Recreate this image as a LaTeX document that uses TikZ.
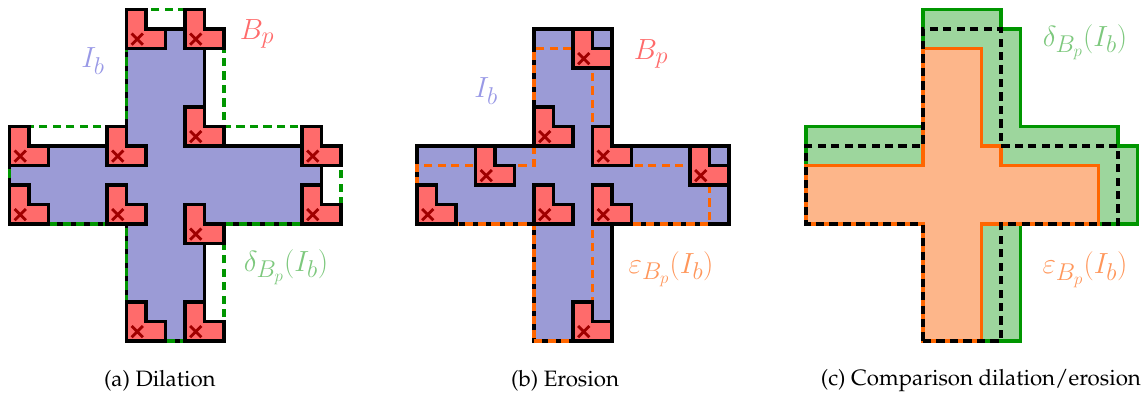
\documentclass[tikz,border=0pt]{standalone}
\usepackage[T1,TU]{fontenc}
\usepackage{tikz}

\definecolor{crossfill}{RGB}{155,155,214}
\definecolor{bpfill}{RGB}{255,107,107}
\definecolor{xred}{RGB}{160,0,0}
\definecolor{dilgreen}{RGB}{0,150,0}
\definecolor{dilfill}{RGB}{157,214,157}
\definecolor{eroorange}{RGB}{255,102,0}
\definecolor{erofill}{RGB}{253,182,138}
\definecolor{iblbl}{RGB}{153,153,230}
\definecolor{diltxt}{RGB}{125,200,125}
\definecolor{erotxt}{RGB}{255,150,90}

\newcommand{\capfont}{\fontencoding{T1}\fontfamily{ppl}\fontsize{19}{23}\selectfont}

\begin{document}
\begin{tikzpicture}[x=0.585cm, y=0.585cm,
    outline/.style={draw=black, line width=3.3pt},
    imgb/.style={outline, fill=crossfill},
    bp/.style={outline, fill=bpfill},
    xmark/.style={draw=xred, line width=2.3pt},
    dilline/.style={draw=dilgreen, line width=3.2pt, dash pattern=on 7pt off 4.5pt},
    eroline/.style={draw=eroorange, line width=3.2pt, dash pattern=on 7pt off 4.5pt},
    dilarea/.style={draw=dilgreen, fill=dilfill, line width=3pt},
    eroarea/.style={draw=eroorange, fill=erofill, line width=3pt},
    imgline/.style={draw=black, line width=3.2pt, dash pattern=on 7pt off 4.5pt},
    lbl/.style={font=\fontsize{28}{32}\selectfont},
    caption/.style={font=\capfont},
    cross/.style={insert path={(6,0) -- (10,0) -- (10,6) -- (16,6) -- (16,10) -- (10,10) -- (10,16) -- (6,16) -- (6,10) -- (0,10) -- (0,6) -- (6,6) -- cycle}},
    dilshape/.style={insert path={(6,0) -- (11,0) -- (11,6) -- (17,6) -- (17,10) -- (16,10) -- (16,11) -- (11,11) -- (11,16) -- (10,16) -- (10,17) -- (6,17) -- (6,11) -- (0,11) -- (0,6) -- (6,6) -- cycle}},
    eroshape/.style={insert path={(6,0) -- (9,0) -- (9,6) -- (15,6) -- (15,9) -- (10,9) -- (10,10) -- (9,10) -- (9,15) -- (6,15) -- (6,9) -- (0,9) -- (0,6) -- (6,6) -- cycle}},
    strel/.pic={
      \path[bp] (0,0) -- ++(2,0) -- ++(0,1) -- ++(-1,0) -- ++(0,1) -- ++(-1,0) -- cycle;
      \draw[xmark] (0.26,0.19) -- ++(0.58,0.58) (0.26,0.77) -- ++(0.58,-0.58);
    },
  ]
  \useasboundingbox (0,0) rectangle (58.87,20.46);

  % (a) dilation
  \begin{scope}[shift={(0.487,2.974)}]
    \path[imgb, cross];
    \path[dilline, dilshape];
    \foreach \x/\y in {6/15, 9/15, 9/10, 0/9, 5/9, 15/9, 0/6, 5/6, 15/6, 9/5, 6/0, 9/0}
      \pic at (\x,\y) {strel};
    \node[lbl, text=iblbl] (iba) at (4.28,14.36) {$I_b$};
    \node[lbl, text=bpfill] (bpa) at (12.69,15.75) {$B_p$};
    \node[lbl, text=diltxt] (dila) at (14.18,3.80) {$\delta_{B_p}(I_b)$};
    \node[caption] (capa) at (7.71,-2.02) {(a) Dilation};
  \end{scope}

  % (b) erosion
  \begin{scope}[shift={(21.385,2.974)}]
    \path[imgb, cross];
    \path[eroline, eroshape];
    \foreach \x/\y in {8/14, 6/10, 9/9, 3/8, 14/8, 0/6, 6/6, 9/6, 8/0}
      \pic at (\x,\y) {strel};
    \node[lbl, text=iblbl] (ibb) at (3.54,12.82) {$I_b$};
    \node[lbl, text=bpfill] (bpb) at (12.0,14.72) {$B_p$};
    \node[lbl, text=erotxt] (erob) at (13.03,3.70) {$\varepsilon_{B_p}(I_b)$};
    \node[caption] (capb) at (7.59,-2.02) {(b) Erosion};
  \end{scope}

  % (c) comparison
  \begin{scope}[shift={(41.33,2.974)}]
    \path[dilarea, dilshape];
    \path[eroarea, eroshape];
    \path[imgline, cross];
    \node[lbl, text=diltxt] (dilc) at (14.31,15.34) {$\delta_{B_p}(I_b)$};
    \node[lbl, text=erotxt] (eroc) at (14.31,3.65) {$\varepsilon_{B_p}(I_b)$};
    \node[caption] (capc) at (8.97,-2.02) {(c) Comparison dilation/erosion};
  \end{scope}
\end{tikzpicture}
\end{document}
